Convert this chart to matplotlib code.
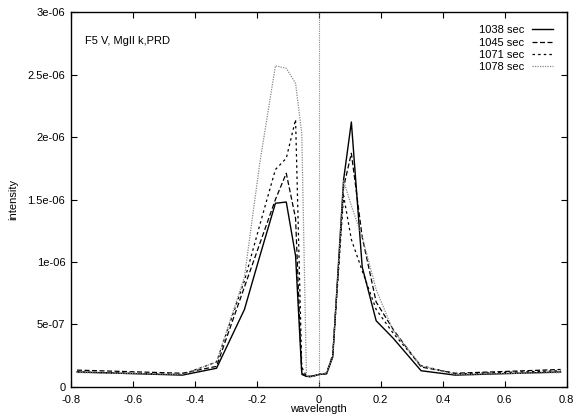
import matplotlib
matplotlib.use('Agg')
import matplotlib.pyplot as plt

plt.rcParams['font.family'] = ['Liberation Sans', 'DejaVu Sans']

# wavelength grid shared by all four profiles
wavelength = [-0.78, -0.44, -0.33, -0.24, -0.19, -0.14, -0.105, -0.075, -0.055, -0.04,
              -0.025, 0.0, 0.025, 0.045, 0.08, 0.105, 0.14, 0.185, 0.24, 0.33, 0.44, 0.78]

# intensity per snapshot
i_1038 = [1.2e-7, 0.95e-7, 1.5e-7, 6.2e-7, 1.05e-6, 1.47e-6, 1.48e-6, 1.05e-6, 1.1e-7, 0.85e-7,
          0.85e-7, 1.0e-7, 1.05e-7, 2.4e-7, 1.66e-6, 2.12e-6, 0.96e-6, 5.3e-7, 3.9e-7, 1.3e-7, 0.95e-7, 1.2e-7]
i_1045 = [1.35e-7, 1.1e-7, 1.65e-7, 8.0e-7, 1.15e-6, 1.5e-6, 1.71e-6, 1.35e-6, 1.0e-7, 0.85e-7,
          0.85e-7, 1.0e-7, 1.1e-7, 2.6e-7, 1.6e-6, 1.87e-6, 1.2e-6, 6.8e-7, 4.6e-7, 1.6e-7, 1.1e-7, 1.4e-7]
i_1071 = [1.2e-7, 1.0e-7, 2.0e-7, 8.5e-7, 1.3e-6, 1.74e-6, 1.83e-6, 2.14e-6, 1.6e-7, 0.85e-7,
          0.8e-7, 1.0e-7, 1.1e-7, 2.5e-7, 1.53e-6, 1.18e-6, 0.93e-6, 6.2e-7, 4.3e-7, 1.7e-7, 1.05e-7, 1.3e-7]
i_1078 = [1.15e-7, 1.0e-7, 2.0e-7, 8.8e-7, 1.8e-6, 2.57e-6, 2.55e-6, 2.43e-6, 2.03e-6, 0.9e-7,
          0.8e-7, 1.0e-7, 1.1e-7, 2.5e-7, 1.65e-6, 1.45e-6, 1.2e-6, 7.8e-7, 4.5e-7, 1.7e-7, 1.0e-7, 1.15e-7]

labels = ['1038 sec', '1045 sec', '1071 sec', '1078 sec']
xticks = [-0.8, -0.6, -0.4, -0.2, 0, 0.2, 0.4, 0.6, 0.8]
yticks = [0, 5e-7, 1e-6, 1.5e-6, 2e-6, 2.5e-6, 3e-6]
ytick_labels = ['0', '5e-07', '1e-06', '1.5e-06', '2e-06', '2.5e-06', '3e-06']

fig = plt.figure(figsize=(5.76, 4.15), dpi=100)
ax = fig.add_axes([0.123, 0.0675, 0.861, 0.9035])

ax.axvline(0, color='#888888', lw=0.8, ls=(0, (1, 1)))

ax.plot(wavelength, i_1038, color='black', lw=1.0, ls='-', label=labels[0])
ax.plot(wavelength, i_1045, color='black', lw=0.9, ls=(0, (4, 2)), label=labels[1])
ax.plot(wavelength, i_1071, color='black', lw=0.9, ls=(0, (2, 2.5)), label=labels[2])
ax.plot(wavelength, i_1078, color='#888888', lw=0.9, ls=(0, (1, 1)), label=labels[3])

ax.set_xlim(-0.8, 0.8)
ax.set_ylim(0, 3e-6)
ax.set_xticks(xticks)
ax.set_xticklabels([f'{t:g}' for t in xticks])
ax.set_yticks(yticks)
ax.set_yticklabels(ytick_labels)
ax.tick_params(direction='in', length=4, width=0.8, top=True, right=True, labelsize=8)
ax.tick_params(axis='x', pad=6)
ax.tick_params(axis='y', pad=4)
for s in ax.spines.values():
    s.set_linewidth(1.0)

ax.set_xlabel('wavelength', fontsize=8, labelpad=-1)
ax.set_ylabel('intensity', fontsize=8, labelpad=7)

ax.text(0.028, 0.915, 'F5 V, MgII k,PRD', transform=ax.transAxes, fontsize=8)

ax.legend(loc='upper right', frameon=False, markerfirst=False, fontsize=8,
          handlelength=1.9, handletextpad=0.7, labelspacing=0.2,
          borderaxespad=0.9, borderpad=0.3)

fig.savefig('out.png', dpi=100)
